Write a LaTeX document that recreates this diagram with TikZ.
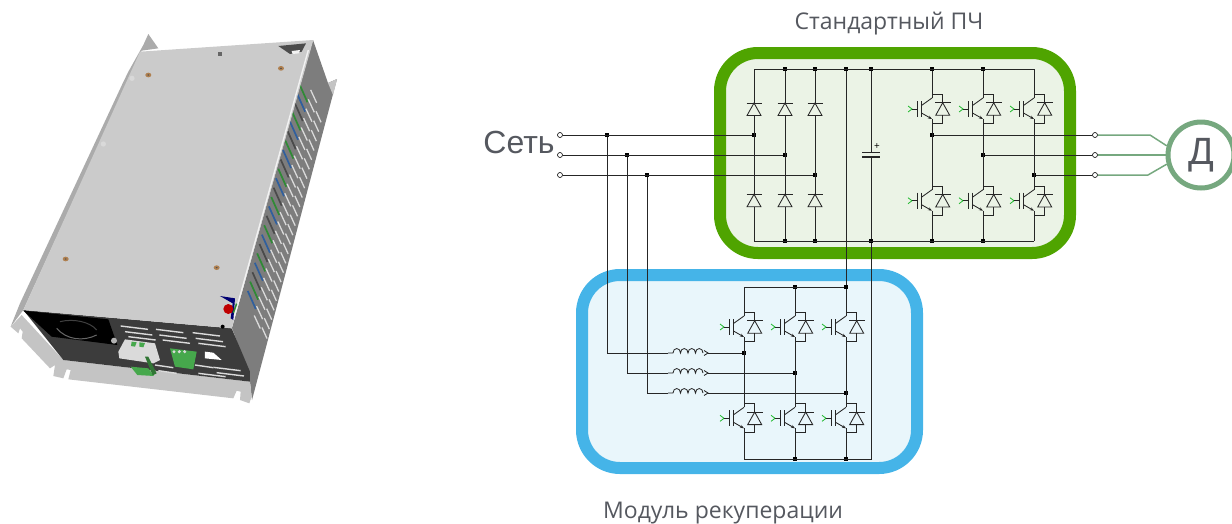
\documentclass[tikz,border=0pt]{standalone}
\usepackage{fontspec}
\setmainfont{Open Sans}
\newfontfamily\arialfont{Liberation Sans}
\usetikzlibrary{arrows.meta}
\definecolor{wirecol}{HTML}{262626}
\definecolor{greenbox}{HTML}{4FA400}
\definecolor{greenfill}{HTML}{EBF3E6}
\definecolor{bluebox}{HTML}{45B4E8}
\definecolor{bluefill}{HTML}{E9F6FB}
\definecolor{motorcol}{HTML}{76A87F}
\definecolor{labelcol}{HTML}{55585F}
\definecolor{gatecol}{HTML}{1DB82B}
\definecolor{sidecol}{HTML}{7D7D7D}
\definecolor{platecol}{HTML}{CBCBCB}
\definecolor{flangecol}{HTML}{C4C4C4}
\definecolor{stripcol}{HTML}{ABABAB}
\definecolor{panelcol}{HTML}{3C3C3C}
\definecolor{ventcol}{HTML}{DADADA}
\definecolor{termgreen}{HTML}{46A84C}
\definecolor{slotblue}{HTML}{2F5F9E}
\definecolor{slotgreen}{HTML}{2F8A35}
\definecolor{slotdark}{HTML}{4A4A4A}
\tikzset{
	wire/.style={draw=wirecol, line width=1pt},
	thin wire/.style={draw=wirecol, line width=0.85pt},
	motorwire/.style={draw=motorcol, line width=1.5pt},
	junction/.style={fill=black, inner sep=0pt, minimum size=4.5pt, rectangle},
	terminal/.style={draw=black, fill=white, circle, inner sep=0pt, minimum size=5pt, line width=0.6pt},
	caption/.style={text=labelcol, font=\fontsize{23}{25}\selectfont},
	diode/.pic={
		\draw[thin wire] (-7.5, 0) -- (7.5, 0);
		\draw[thin wire] (0, 0) -- (-7, 12.5) -- (7, 12.5) -- cycle;
		\coordinate (-a) at (0, 0);
		\coordinate (-k) at (0, 12.5);
	},
	igbt/.pic={
		% gate on the left, diode on the right, leg at x = 0
		\draw[gatecol, line width=0.8pt] (-24, -3) -- (-20, 0) -- (-24, 3);
		\draw[thin wire] (-20, 0) -- (-15, 0) (-15, -8) -- (-15, 8);
		\draw[thin wire] (-10.5, -8) -- (-10.5, 8);
		\draw[thin wire] (-10.5, -3.5) -- (0, -11);
		\draw[thin wire, -{Stealth[length=4pt, width=3pt]}] (-10.5, 4) -- (0, 10);
		\draw[thin wire] (0, -14.5) -- (10.7, -14.5) -- (10.7, -6.3);
		\draw[thin wire] (10.7, 6.3) -- (10.7, 14.5) -- (0, 14.5);
		\draw[thin wire] (3, -6.3) -- (18.5, -6.3);
		\draw[thin wire] (10.7, -6.3) -- (3.7, 6.3) -- (17.7, 6.3) -- cycle;
		\draw[wire] (0, -14.5) -- (0, -11) (0, 10) -- (0, 14.5);
		\coordinate (-c) at (0, -14.5);
		\coordinate (-e) at (0, 14.5);
	},
	choke/.pic={
		\draw[thin wire] (0, 0) -- (5, 0)
			arc[start angle=180, end angle=360, x radius=3.75, y radius=4.5]
			arc[start angle=180, end angle=360, x radius=3.75, y radius=4.5]
			arc[start angle=180, end angle=360, x radius=3.75, y radius=4.5]
			arc[start angle=180, end angle=360, x radius=3.75, y radius=4.5];
		\draw[thin wire] (36, -2.5) -- (40, 0) -- (36, 2.5);
		\coordinate (-l) at (0, 0);
		\coordinate (-r) at (40, 0);
	}
}
\begin{document}
\begin{tikzpicture}[x=1pt, y=-1pt]
	\useasboundingbox (0, 0) rectangle (1232, 523);

	% ---- the unit, slots in pixels ----
	\fill[sidecol] (313, 40) -- (328, 83) -- (337, 79) -- (252, 400) -- (249, 373) -- (232, 328) -- cycle;
	\fill[flangecol] (328, 83) -- (337, 79) -- (333, 95) -- cycle;
	\foreach \i in {0, ..., 22}
	{
		\pgfmathsetmacro\yy{300-9.4*\i}
		\pgfmathsetmacro\xx{276+(203-\yy)*0.25}
		\pgfmathparse{mod(\i, 3) == 0 ? "slotblue" : (mod(\i, 3) == 1 ? "slotgreen" : "slotdark")}
		\edef\colour{\pgfmathresult}
		\draw[\colour, line width=1.7pt] ({\xx-4}, {\yy-9}) -- ({\xx+4}, {\yy+9});
	}
	\foreach \i in {0, ..., 24}
	{
		\pgfmathsetmacro\yy{322-9.4*\i}
		\pgfmathsetmacro\xx{287+(203-\yy)*0.25}
		\draw[ventcol, line width=1.3pt] ({\xx-3}, {\yy-6.5}) -- ({\xx+3}, {\yy+6.5});
	}
	\foreach \i in {0, ..., 23}
	{
		\pgfmathsetmacro\yy{333-9.4*\i}
		\pgfmathsetmacro\xx{297+(203-\yy)*0.25}
		\draw[ventcol, line width=1.3pt] ({\xx-2.5}, {\yy-5.5}) -- ({\xx+2.5}, {\yy+5.5});
	}

	% ---- the unit, in thirds of a pixel ----
	\begin{scope}[x=0.33333pt, y=-0.33333pt, shift={(0pt, -20pt)}]
		% left flange and top ear
		\fill[stripcol] (445, 42) -- (475, 85) -- (425, 92) -- (70, 870) -- (32, 920) -- (60, 850) -- (368, 190) -- (385, 155) -- (430, 75) -- cycle;
		% front panel and lower flange
		\fill[flangecol] (32, 920) -- (65, 885) -- (190, 1020) -- (750, 1085) -- (755, 1130) -- (748, 1150) -- (720, 1140) -- (722, 1115) -- (710, 1112) -- (700, 1135) -- (205, 1078) -- (212, 1050) -- (200, 1048) -- (190, 1075) -- (160, 1068) -- (165, 1035) -- (150, 1045) -- (65, 955) -- (68, 935) -- (60, 925) -- (55, 940) -- cycle;
		\fill[panelcol] (70, 870) -- (695, 925) -- (750, 1055) -- (750, 1085) -- (190, 1020) -- cycle;
		% fan
		\fill[black] (70, 872) -- (325, 898) -- (352, 975) -- (155, 950) -- cycle;
		\draw[black!60, line width=1pt] (170, 925) .. controls (200, 960) and (250, 965) .. (290, 945);
		\draw[black!75, line width=1pt] (180, 905) .. controls (220, 895) and (270, 905) .. (290, 930);
		\fill[gray!60] (342, 962) circle[radius=9];
		% top plate
		\fill[platecol] (420, 95) -- (940, 60) -- (695, 925) -- (70, 870) -- cycle;
		\draw[white!90!gray, line width=1.4pt] (925, 90) -- (700, 900);
		\fill[black!70] (835, 78) -- (918, 70) -- (905, 95) -- (870, 102) -- cycle;
		\fill[white!90!gray] (875, 93) -- (900, 90) -- (897, 100) -- (878, 102) -- cycle;
		\fill[black!60] (655, 95) rectangle (665, 108);
		% screws
		\foreach \px/\py in {445/165, 843/145, 197/717, 650/743}
		{
			\fill[brown!75!gray] (\px, \py) circle[x radius=9, y radius=7];
			\fill[black!70] (\px, \py) circle[x radius=3, y radius=2];
		}
		\foreach \px/\py in {396/175, 310/372}
			\fill[gray!30] (\px, \py) circle[radius=8];
		% button
		\fill[blue!45!black] (660, 828) -- (705, 835) -- (700, 900) -- (692, 895) -- (698, 850) -- cycle;
		\fill[slotgreen] (708, 850) -- (712, 852) -- (702, 880) -- (698, 878) -- cycle;
		\fill[red!75!black] (685, 867) circle[radius=15];
		\fill[black] (668, 920) circle[radius=6];
		% vents of the front panel
		\foreach \sx/\sy in {362/918, 375/935, 385/950, 468/928, 478/945, 488/960, 578/938, 587/955, 595/970,
			595/1060, 640/1042, 650/1058}
			\draw[ventcol, line width=1.4pt] (\sx, \sy) -- ++(82, 10);
		\foreach \sx/\sy in {465/1035, 475/1052, 585/1035}
			\draw[ventcol, line width=1.4pt] (\sx, \sy) -- ++(55, 8);
		% connectors
		\fill[ventcol] (355, 995) -- (375, 958) -- (465, 970) -- (480, 1020) -- (460, 1030) -- (358, 1015) -- cycle;
		\fill[termgreen] (395, 965) -- (410, 967) -- (405, 980) -- (393, 978) -- cycle;
		\fill[termgreen] (418, 967) -- (435, 969) -- (430, 982) -- (418, 980) -- cycle;
		\fill[termgreen] (392, 1040) -- (445, 1045) -- (462, 1068) -- (412, 1065) -- cycle;
		\fill[termgreen!70!black] (435, 1010) -- (445, 1010) -- (470, 1060) -- (458, 1066) -- cycle;
		\fill[termgreen] (510, 985) -- (590, 995) -- (580, 1048) -- (525, 1040) -- cycle;
		\foreach \px in {522, 538, 554}
			\fill[ventcol] (\px, 995) circle[radius=5];
		\fill[white] (615, 995) -- (640, 998) -- (665, 1020) -- (615, 1015) -- cycle;
	\end{scope}

	% ---- frames ----
	\draw[greenbox, fill=greenfill, line width=12pt, rounded corners=38pt] (720, 53) rectangle (1070, 253);
	\draw[bluebox, fill=bluefill, line width=12pt, rounded corners=38pt] (582, 275) rectangle (917, 468);

	\node[caption] (stdlabel) at (889, 24) {Стандартный ПЧ};
	\node[caption] (reclabel) at (723, 513) {Модуль рекуперации};
	\node[text=labelcol, font=\arialfont\fontsize{32}{34}\selectfont] (gridlabel) at (519, 142) {Сеть};

	% ---- motor ----
	\node[draw=motorcol, line width=5pt, fill=white, circle, minimum size=66pt, inner sep=0pt, text=labelcol, font=\arialfont\fontsize{38}{40}\selectfont] (motor) at (1201, 155) {Д};

	% ---- terminals ----
	\foreach \n/\yy in {1/135, 2/155, 3/175}
	{
		\node[terminal] (in\n) at (560, \yy) {};
		\node[terminal] (out\n) at (1095, \yy) {};
	}

	% ---- junctions ----
	\foreach \n/\xx/\yy in {tb/785/69, tc/815/69, td/846/69, te/871/69, tf/932/69, tg/983/69,
		bb/785/241, bc/815/241, be/871/241, bf/932/241, bg/983/241,
		ra/754/135, rb/785/155, rc/815/175, ua/932/135, ub/983/155, uc/1034/175,
		da/607/135, db/627/155, dc/647/175,
		pb/795/287, pc/846/287, nb/795/459, nc/846/459,
		ma/744/353, mb/795/373, mc/846/393}
		\node[junction] (\n) at (\xx, \yy) {};
	\coordinate (ta) at (754, 69);
	\coordinate (ba) at (754, 241);
	\coordinate (th) at (1034, 69);
	\coordinate (bh) at (1034, 241);
	\coordinate (pa) at (744, 287);
	\coordinate (na) at (744, 459);
	\coordinate (nd) at (871, 459);
	\coordinate (ca) at (871, 152.7);
	\coordinate (cb) at (871, 157);

	% ---- buses ----
	\draw[wire] (ta) -- (th);
	\draw[wire] (ba) -- (bh);
	\draw[wire] (pa) -- (pc) -- (td);
	\draw[wire] (na) -- (nd) -- (be);

	% ---- capacitor ----
	\draw[wire] (te) -- (ca) (cb) -- (be);
	\draw[wire, line width=1.3pt] (862, 152.7) -- (880, 152.7) (862, 157) -- (880, 157);
	\node[font=\fontsize{10}{10}\selectfont, inner sep=0pt] (cplus) at (877, 147) {+};

	% ---- rectifier ----
	\foreach \n/\xx/\tp/\bt in {a/754/ta/ba, b/785/tb/bb, c/815/tc/bc}
	{
		\pic (du\n) at (\xx, 103) {diode};
		\pic (dl\n) at (\xx, 194.3) {diode};
		\draw[wire] (\tp) -- (du\n-a) (du\n-k) -- (dl\n-a) (dl\n-k) -- (\bt);
	}

	% ---- inverter and recuperation legs ----
	\foreach \n/\xx/\tp/\bt in {a/932/tf/bf, b/983/tg/bg, c/1034/th/bh}
	{
		\pic (qu\n) at (\xx, 109) {igbt};
		\pic (ql\n) at (\xx, 200.7) {igbt};
		\draw[wire] (\tp) -- (qu\n-c) (qu\n-e) -- (ql\n-c) (ql\n-e) -- (\bt);
	}
	\foreach \n/\xx/\tp/\bt in {a/744/pa/na, b/795/pb/nb, c/846/pc/nc}
	{
		\pic (su\n) at (\xx, 327) {igbt};
		\pic (sl\n) at (\xx, 418.3) {igbt};
		\draw[wire] (\tp) -- (su\n-c) (su\n-e) -- (sl\n-c) (sl\n-e) -- (\bt);
	}

	% ---- mains and outputs ----
	\draw[wire] (in1) -- (ra);
	\draw[wire] (in2) -- (rb);
	\draw[wire] (in3) -- (rc);
	\draw[wire] (ua) -- (out1);
	\draw[wire] (ub) -- (out2);
	\draw[wire] (uc) -- (out3);
	\draw[motorwire] (out1) -- (1150, 135) -- (motor.165);
	\draw[motorwire] (out2) -- (motor);
	\draw[motorwire] (out3) -- (1148, 175) -- (motor.195);

	% ---- chokes ----
	\foreach \n/\dd/\mm/\yy in {a/da/ma/353, b/db/mb/373, c/dc/mc/393}
	{
		\pic (l\n) at (668, \yy) {choke};
		\draw[wire] (\dd) |- (l\n-l);
		\draw[wire] (l\n-r) -- (\mm);
	}
\end{tikzpicture}
\end{document}
